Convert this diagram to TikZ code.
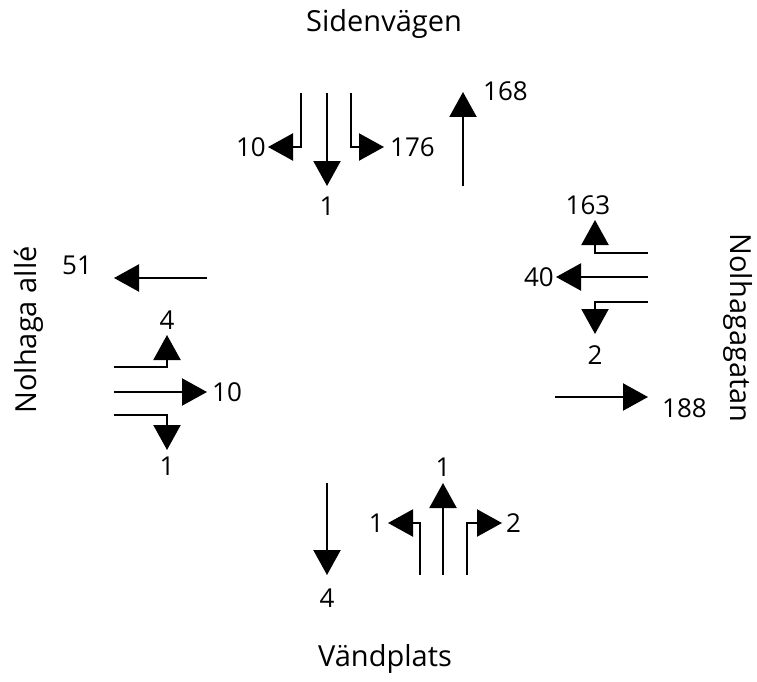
\documentclass[tikz,border=0pt]{standalone}
\usepackage{fontspec}
\setmainfont{Open Sans}
\usetikzlibrary{arrows.meta}
\begin{document}
\begin{tikzpicture}[x=1pt,y=-1pt,
  flow/.style={line width=2.2pt,-{Triangle[length=25pt,width=27pt]}},
  lbl/.style={inner sep=0pt,font=\fontsize{26}{30}\selectfont},
  road/.style={inner sep=0pt,font=\fontsize{29}{32}\selectfont}]
\useasboundingbox (0,0) rectangle (757,682);
% road names
\node[road] (sid) at (384,24) {Sidenvägen};
\node[road] (vand) at (385,659) {Vändplats};
\node[road,rotate=-90] (nolg) at (738,328) {Nolhagagatan};
\node[road,rotate=90] (nola) at (29,330) {Nolhaga allé};
% ---- top arm (Sidenvägen)
\coordinate (t1s) at (301,93); \coordinate (t1c) at (301,147); \coordinate (t1e) at (268,147);
\coordinate (t2s) at (327,93); \coordinate (t2e) at (327,186);
\coordinate (t3s) at (351,93); \coordinate (t3c) at (351,147); \coordinate (t3e) at (384,147);
\coordinate (t4s) at (463,186); \coordinate (t4e) at (463,92);
\draw[flow] (t1s) -- (t1c) -- (t1e);
\draw[flow] (t2s) -- (t2e);
\draw[flow] (t3s) -- (t3c) -- (t3e);
\draw[flow] (t4s) -- (t4e);
\node[lbl,anchor=east] (lt1) at (266,147) {10};
\node[lbl] (lt2) at (327,206) {1};
\node[lbl,anchor=west] (lt3) at (390,147) {176};
\node[lbl,anchor=west] (lt4) at (483,91) {168};
% ---- right arm (Nolhagagatan)
\coordinate (r1s) at (648,253); \coordinate (r1c) at (595,253); \coordinate (r1e) at (595,220);
\coordinate (r2s) at (648,277); \coordinate (r2e) at (556,277);
\coordinate (r3s) at (648,302); \coordinate (r3c) at (595,302); \coordinate (r3e) at (595,334);
\coordinate (r4s) at (555,397); \coordinate (r4e) at (648,397);
\draw[flow] (r1s) -- (r1c) -- (r1e);
\draw[flow] (r2s) -- (r2e);
\draw[flow] (r3s) -- (r3c) -- (r3e);
\draw[flow] (r4s) -- (r4e);
\node[lbl] (lr1) at (588,205) {163};
\node[lbl,anchor=east] (lr2) at (554,277) {40};
\node[lbl] (lr3) at (595,355) {2};
\node[lbl,anchor=west] (lr4) at (662,408) {188};
% ---- left arm (Nolhaga allé)
\coordinate (l1s) at (207,278); \coordinate (l1e) at (114,278);
\coordinate (l2s) at (114,367); \coordinate (l2c) at (167,367); \coordinate (l2e) at (167,335);
\coordinate (l3s) at (114,392); \coordinate (l3e) at (207,392);
\coordinate (l4s) at (114,415); \coordinate (l4c) at (167,415); \coordinate (l4e) at (167,450);
\draw[flow] (l1s) -- (l1e);
\draw[flow] (l2s) -- (l2c) -- (l2e);
\draw[flow] (l3s) -- (l3e);
\draw[flow] (l4s) -- (l4c) -- (l4e);
\node[lbl] (ll1) at (77,265) {51};
\node[lbl] (ll2) at (167,320) {4};
\node[lbl,anchor=west] (ll3) at (212,392) {10};
\node[lbl] (ll4) at (167,466) {1};
% ---- bottom arm (Vändplats)
\coordinate (b1s) at (327,483); \coordinate (b1e) at (327,575);
\coordinate (b2s) at (420,575); \coordinate (b2c) at (420,523); \coordinate (b2e) at (388,523);
\coordinate (b3s) at (443,575); \coordinate (b3e) at (443,483);
\coordinate (b4s) at (467,575); \coordinate (b4c) at (467,523); \coordinate (b4e) at (502,523);
\draw[flow] (b1s) -- (b1e);
\draw[flow] (b2s) -- (b2c) -- (b2e);
\draw[flow] (b3s) -- (b3e);
\draw[flow] (b4s) -- (b4c) -- (b4e);
\node[lbl] (lb1) at (327,598) {4};
\node[lbl,anchor=east] (lb2) at (384,523) {1};
\node[lbl] (lb3) at (443,467) {1};
\node[lbl,anchor=west] (lb4) at (506,523) {2};
\end{tikzpicture}
\end{document}
